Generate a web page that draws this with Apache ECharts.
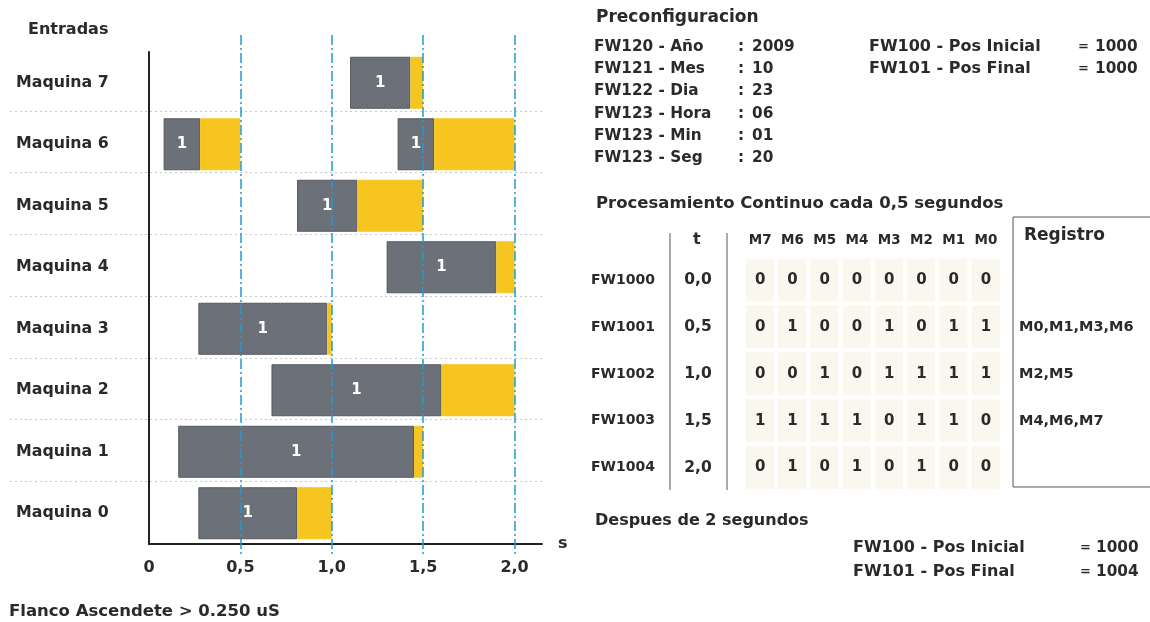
<!DOCTYPE html>
<html>
<head>
<meta charset="utf-8">
<script src="https://cdn.jsdelivr.net/npm/echarts@6/dist/echarts.min.js"></script>
<style>html,body{margin:0;padding:0;background:#fff;}#c{width:1150px;height:622px;}</style>
</head>
<body>
<div id="c"></div>
<script>
// ---- Data ----
var machines = ['Maquina 0','Maquina 1','Maquina 2','Maquina 3','Maquina 4','Maquina 5','Maquina 6','Maquina 7'];
var pulseStart = [0.27, 0.16, 0.67, 0.27, 1.30, 0.81, 0.08, 1.10];
var pulseEnd   = [0.81, 1.45, 1.60, 0.975, 1.90, 1.14, 0.28, 1.43];
var readEnd    = [1.00, 1.50, 2.00, 1.00, 2.00, 1.50, 0.50, 1.50];
var pulse2Start = [null, null, null, null, null, null, 1.36, null];
var pulse2End   = [null, null, null, null, null, null, 1.56, null];
var read2End    = [null, null, null, null, null, null, 2.00, null];
var xTicks = [0, 0.5, 1.0, 1.5, 2.0];

var bitCols = ['M7','M6','M5','M4','M3','M2','M1','M0'];
var regRows = ['FW1000','FW1001','FW1002','FW1003','FW1004'];
var tVals   = ['0,0','0,5','1,0','1,5','2,0'];
var bits = [
  [0,0,0,0,0,0,0,0],
  [0,1,0,0,1,0,1,1],
  [0,0,1,0,1,1,1,1],
  [1,1,1,1,0,1,1,0],
  [0,1,0,1,0,1,0,0]
];
var registro = ['', 'M0,M1,M3,M6', 'M2,M5', 'M4,M6,M7', ''];

var preLabels = ['FW120 - Año','FW121 - Mes','FW122 - Dia','FW123 - Hora','FW123 - Min','FW123 - Seg'];
var preValues = ['2009','10','23','06','01','20'];
var posBefore = [['FW100 - Pos Inicial','1000'],['FW101 - Pos Final','1000']];
var posAfter  = [['FW100 - Pos Inicial','1000'],['FW101 - Pos Final','1004']];

// ---- Build ----
var FONT = 'DejaVu Sans';
var TXT = '#2a2a2a';
var GRAY = '#6c7079', YEL = '#f6c51f';
function sub(a, b) { return a.map(function (v, i) { return (v == null || b[i] == null) ? null : +(v - b[i]).toFixed(4); }); }
var off1 = pulseStart.slice();
var gray1 = sub(pulseEnd, pulseStart);
var yel1 = sub(readEnd, pulseEnd);
var off2 = sub(pulse2Start, readEnd);
var gray2 = sub(pulse2End, pulse2Start);
var yel2 = sub(read2End, pulse2End);

function fmtTick(v) { return v === 0 ? '0' : v.toFixed(1).replace('.', ','); }

var heatData = [];
bits.forEach(function (row, r) { row.forEach(function (b, c) { heatData.push([c, r, b]); }); });

function lbl(size) { return { fontFamily: FONT, fontWeight: 'bold', fontSize: size, color: TXT }; }
var graphics = [];
function addText(x, cy, t, size) {
  graphics.push({ type: 'text', x: x, y: cy, silent: true,
    style: { text: t, font: 'bold ' + size + 'px "' + FONT + '"', fill: TXT, textAlign: 'left', textVerticalAlign: 'middle' } });
}
function addLine(x1, y1, x2, y2, color) {
  graphics.push({ type: 'line', silent: true, shape: { x1: x1, y1: y1, x2: x2, y2: y2 }, style: { stroke: color || '#555', lineWidth: 1 } });
}
addText(28, 30, 'Entradas', 16);
addText(9, 612, 'Flanco Ascendete > 0.250 uS', 16.5);
addText(596, 18, 'Preconfiguracion', 17);
var preY = [47, 69, 91, 114, 136, 158];
preLabels.forEach(function (t, i) {
  addText(594, preY[i], t, 15.3);
  addText(738, preY[i], ':', 15.3);
  addText(752, preY[i], preValues[i], 15.3);
});
posBefore.forEach(function (p, i) {
  addText(869, 47 + i * 22, p[0], 16);
  addText(1078, 47 + i * 22, '=', 13);
  addText(1095, 47 + i * 22, p[1], 15.3);
});
addText(596, 204, 'Procesamiento Continuo cada 0,5 segundos', 16.5);
addText(693, 240, 't', 16);
addText(1024, 236, 'Registro', 17);
addText(595, 521, 'Despues de 2 segundos', 16);
posAfter.forEach(function (p, i) {
  addText(853, 548 + i * 24, p[0], 16);
  addText(1080, 548 + i * 24, '=', 13);
  addText(1096, 548 + i * 24, p[1], 15.3);
});
addLine(670, 233, 670, 490);
addLine(727, 233, 727, 490);
addLine(1013, 217, 1150, 217);
addLine(1013, 217, 1013, 487);
addLine(1013, 487, 1150, 487);

var barBase = { type: 'bar', stack: 'p', xAxisIndex: 0, yAxisIndex: 0, barWidth: 52, z: 3 };
function seg(name, data, color, withLabel) {
  var s = Object.assign({}, barBase, { name: name, data: data,
    itemStyle: color ? { color: color, borderColor: color === GRAY ? '#55595f' : color, borderWidth: 1 } : { color: 'transparent' },
    emphasis: { disabled: true } });
  if (withLabel) s.label = { show: true, position: 'inside', formatter: '1', color: '#fff', fontFamily: FONT, fontWeight: 'bold', fontSize: 15 };
  return s;
}

var option = {
  animation: false,
  backgroundColor: '#fff',
  grid: [
    { left: 149, right: 608, top: 52, bottom: 78 },
    { left: 10, right: 605, top: 110.75, bottom: 622 - 481.25 },
    { left: 149, right: 608, top: 35, bottom: 65 },
    { left: 744, width: 258, top: 257, height: 234 }
  ],
  xAxis: [
    { type: 'value', gridIndex: 0, min: 0, max: 2.15, interval: 0.5,
      name: 's', nameLocation: 'end', nameGap: 16, nameTextStyle: lbl(16),
      axisLine: { show: true, lineStyle: { color: '#222', width: 2 } }, axisTick: { show: false },
      axisLabel: { margin: 16, formatter: function (v) { return xTicks.indexOf(v) >= 0 ? fmtTick(v) : ''; }, fontFamily: FONT, fontWeight: 'bold', fontSize: 16, color: TXT, showMaxLabel: false },
      splitLine: { show: false } },
    { type: 'value', gridIndex: 1, show: false, min: 0, max: 1 },
    { type: 'value', gridIndex: 2, min: 0, max: 2.15, interval: 0.5, z: 6,
      axisLine: { show: false }, axisTick: { show: false }, axisLabel: { show: false },
      splitLine: { show: true, showMinLine: false, showMaxLine: false, lineStyle: { color: '#1e9bd3', width: 1.5, type: [10, 3, 2, 3] } } },
    { type: 'category', gridIndex: 3, position: 'top', data: bitCols,
      axisLine: { show: false }, axisTick: { show: false },
      axisLabel: { interval: 0, hideOverlap: false, margin: 10, fontFamily: FONT, fontWeight: 'bold', fontSize: 13.5, color: TXT } }
  ],
  yAxis: [
    { type: 'category', gridIndex: 0, data: machines,
      axisLine: { show: true, lineStyle: { color: '#222', width: 2 } }, axisTick: { show: false },
      axisLabel: { align: 'left', margin: 133, fontFamily: FONT, fontWeight: 'bold', fontSize: 15.8, color: TXT } },
    { type: 'category', gridIndex: 1, data: machines.slice(0, 6),
      axisLine: { show: false }, axisTick: { show: false }, axisLabel: { show: false },
      splitLine: { show: true, lineStyle: { color: '#c8c8c8', type: [2, 3], width: 1 } } },
    { type: 'value', gridIndex: 2, show: false, min: 0, max: 1 },
    { type: 'category', gridIndex: 3, data: regRows, inverse: true, position: 'left',
      axisLine: { show: false }, axisTick: { show: false },
      axisLabel: { interval: 0, align: 'center', margin: 46, formatter: function (v, i) { return tVals[i]; }, fontFamily: FONT, fontWeight: 'bold', fontSize: 15.5, color: TXT } },
    { type: 'category', gridIndex: 3, data: regRows, inverse: true, position: 'left',
      axisLine: { show: false }, axisTick: { show: false },
      axisLabel: { interval: 0, align: 'left', margin: 153, fontFamily: FONT, fontWeight: 'bold', fontSize: 14, color: TXT } },
    { type: 'category', gridIndex: 3, data: regRows, inverse: true, position: 'right',
      axisLine: { show: false }, axisTick: { show: false },
      axisLabel: { interval: 0, align: 'left', margin: 17, formatter: function (v, i) { return registro[i]; }, fontFamily: FONT, fontWeight: 'bold', fontSize: 14.5, color: TXT } }
  ],
  visualMap: { show: false, seriesIndex: 6, min: 0, max: 1, inRange: { color: ['#faf8ee', '#faf8ee'] } },
  series: [
    seg('off1', off1, null, false),
    seg('pulse1', gray1, GRAY, true),
    seg('wait1', yel1, YEL, false),
    seg('off2', off2, null, false),
    seg('pulse2', gray2, GRAY, true),
    seg('wait2', yel2, YEL, false),
    { type: 'heatmap', xAxisIndex: 3, yAxisIndex: 3, data: heatData,
      itemStyle: { borderColor: '#fff', borderWidth: 4 },
      label: { show: true, fontFamily: FONT, fontWeight: 'bold', fontSize: 15, color: TXT },
      emphasis: { disabled: true } }
  ],
  graphic: graphics
};
var chart = echarts.init(document.getElementById('c'), null, { renderer: 'canvas' });
chart.setOption(option);
</script>
</body>
</html>
